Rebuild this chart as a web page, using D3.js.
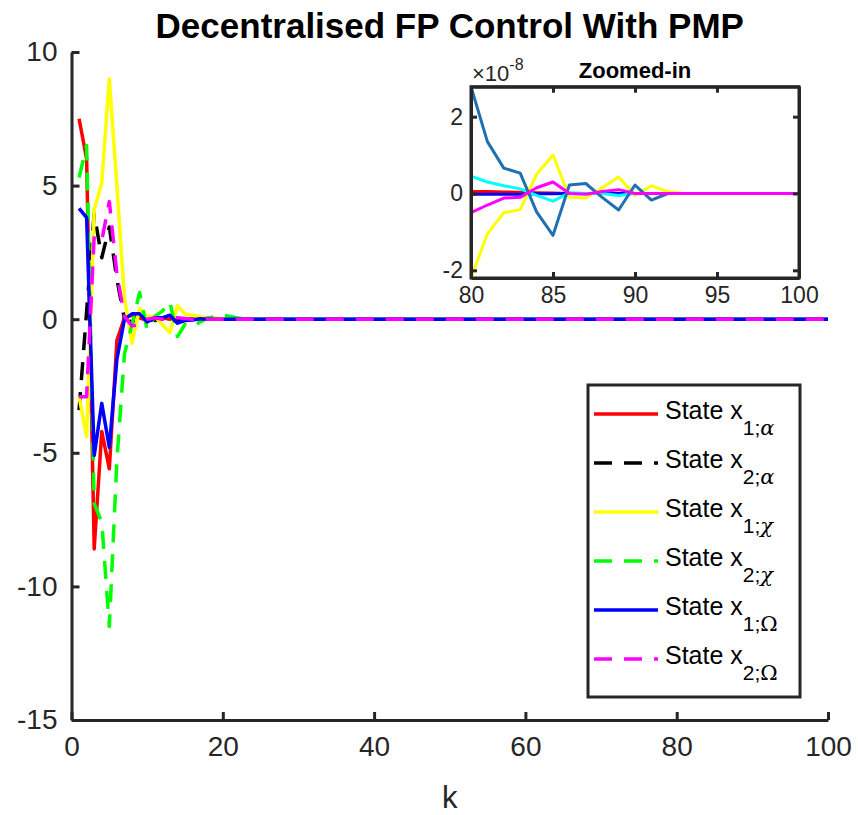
<!DOCTYPE html>
<html>
<head>
<meta charset="utf-8">
<script src="https://cdn.jsdelivr.net/npm/d3@7"></script>
<style>
  body { margin: 0; background: #ffffff; }
  svg text { font-family: "Liberation Sans", Arial, Helvetica, sans-serif; }
</style>
</head>
<body>
<div id="chart"></div>
<script>
"use strict";
let width = 858;
let height = 815;

// main plot: k = 1..25, beyond that every state sits on 0
let kMain = [1, 2, 3, 4, 5, 6, 7, 8, 9, 10, 11, 12, 13, 14, 15, 16, 17, 18, 19, 20, 21, 22, 23, 24, 25, 100];
let x1Alpha = [7.5, 6.0, -8.6, -4.2, -5.6, -0.8, 0.05, 0.15, 0.05, -0.05, 0, 0.05, 0, 0.02, 0, 0, 0, 0, 0, 0, 0, 0, 0, 0, 0, 0];
let x2Alpha = [-3.4, 0.3, 3.95, 2.3, 3.45, 1.5, 0.0, -0.1, 0.05, 0, -0.05, 0, 0.05, 0, 0, 0, 0, 0, 0, 0, 0, 0, 0, 0, 0, 0];
let x1Chi = [-2.9, -4.4, 4.1, 5.1, 9.0, 5.0, 0.8, -0.9, 0.4, 0.1, 0.1, -0.2, -0.5, 0.5, 0.2, 0.15, 0.1, 0.05, 0.05, 0.02, 0, 0, 0, 0, 0, 0];
let x2Chi = [5.3, 6.5, -6.9, -7.6, -11.5, -5.3, -1.3, -0.2, 1.0, -0.4, 0.1, 0.3, 0.65, -0.65, -0.2, -0.3, -0.1, 0.05, 0.1, 0.15, 0.1, 0.05, 0, 0, 0, 0];
let x1Omega = [4.15, 3.8, -5.1, -3.15, -4.8, -1.5, 0.0, 0.2, 0.2, -0.1, 0.05, 0.05, 0.15, -0.15, -0.05, -0.03, 0.02, 0, 0, 0, 0, 0, 0, 0, 0, 0];
let x2Omega = [-2.9, -2.9, 3.1, 2.95, 4.4, 1.7, 0.1, -0.25, -0.2, 0, 0.05, 0, 0.05, 0.05, 0.03, 0, 0, 0, 0, 0, 0, 0, 0, 0, 0, 0];

let seriesNames = ["1;α", "2;α", "1;χ", "2;χ", "1;Ω", "2;Ω"];
let seriesColors = ["#ff0000", "#000000", "#ffff00", "#00ff00", "#0000ff", "#ff00ff"];
let seriesDashed = [false, true, false, true, false, true];
let seriesValues = [x1Alpha, x2Alpha, x1Chi, x2Chi, x1Omega, x2Omega];

let xTicks = [0, 20, 40, 60, 80, 100];
let yTicks = [-15, -10, -5, 0, 5, 10];

// inset (zoomed-in), values in units of 1e-8
let kInset = [80, 81, 82, 83, 84, 85, 86, 87, 88, 89, 90, 91, 92, 93, 94, 95, 96, 97, 98, 99, 100];
let insetRed = [0.05, 0.05, 0.04, 0.03, 0.02, 0.01, 0, 0, 0, 0, 0, 0, 0, 0, 0, 0, 0, 0, 0, 0, 0];
let insetBlue = [-0.02, -0.02, -0.02, -0.02, -0.01, -0.01, 0, 0, 0, 0, 0, 0, 0, 0, 0, 0, 0, 0, 0, 0, 0];
let insetYellow = [-2.2, -1.05, -0.5, -0.42, 0.5, 1.0, -0.1, -0.12, 0.15, 0.43, -0.05, 0.2, 0.05, 0, 0, 0, 0, 0, 0, 0, 0];
let insetCyan = [0.45, 0.3, 0.2, 0.12, -0.05, -0.2, 0.02, 0, 0, -0.05, 0, 0, 0, 0, 0, 0, 0, 0, 0, 0, 0];
let insetSteel = [2.78, 1.35, 0.66, 0.53, -0.48, -1.09, 0.22, 0.26, -0.1, -0.43, 0.22, -0.17, 0, 0, 0, 0, 0, 0, 0, 0, 0];
let insetMagenta = [-0.5, -0.3, -0.12, -0.1, 0.15, 0.3, 0.0, -0.02, 0.05, 0.1, 0, 0, 0, 0, 0, 0, 0, 0, 0, 0, 0];
let insetValues = [insetRed, insetBlue, insetYellow, insetCyan, insetSteel, insetMagenta];
let insetColors = ["#ff0000", "#0000ff", "#ffff00", "#00ffff", "#1f70b0", "#ff00ff"];
let insetXTicks = [80, 85, 90, 95, 100];
let insetYTicks = [-2, 0, 2];

let axisColor = "#262626";
// MATLAB writes plain hyphen-minus and integers
let plainFormat = function(d) { return String(d); };

let svg = d3.select("#chart")
            .append("svg")
            .attr("width", width)
            .attr("height", height);

// Scales for the main plot
let xScale = d3.scaleLinear().domain([0, 100]).range([71.5, 828]);
let yScale = d3.scaleLinear().domain([-15, 10]).range([720, 52]);

svg.append("clipPath").attr("id", "mainClip")
   .append("rect").attr("x", 71.5).attr("y", 52).attr("width", 756.5).attr("height", 668);

let line = d3.line()
            .x(function(d) { return xScale(d[0]); })
            .y(function(d) { return yScale(d[1]); });

let mainLines = svg.append("g").attr("clip-path", "url(#mainClip)");
seriesValues.forEach(function(vals, i) {
    mainLines.append("path")
        .datum(kMain.map(function(k, j) { return [k, vals[j]]; }))
        .attr("d", line)
        .attr("fill", "none")
        .attr("stroke", seriesColors[i])
        .attr("stroke-width", 3.5)
        .attr("stroke-linejoin", "round")
        .attr("stroke-dasharray", seriesDashed[i] ? "18,12" : null);
});

// Axes (MATLAB style: ticks inside, box off)
let xAxis = d3.axisBottom(xScale).tickValues(xTicks).tickFormat(plainFormat).tickSizeInner(-8).tickSizeOuter(0).tickPadding(16);
let yAxis = d3.axisLeft(yScale).tickValues(yTicks).tickFormat(plainFormat).tickSizeInner(-8).tickSizeOuter(0).tickPadding(14);

let gx = svg.append("g")
            .attr("class", "axis")
            .attr("transform", "translate(0,720)")
            .call(xAxis);
let gy = svg.append("g")
            .attr("class", "axis")
            .attr("transform", "translate(71.5,0)")
            .call(yAxis);

[gx, gy].forEach(function(g) {
    g.select(".domain").attr("stroke", axisColor).attr("stroke-width", 3);
    g.selectAll(".tick line").attr("stroke", axisColor).attr("stroke-width", 3);
    g.selectAll(".tick text")
     .attr("fill", axisColor)
     .style("font-size", "28px");
});
gx.selectAll(".tick text").attr("dy", "0.71em");

// Title and x label
svg.append("text")
   .attr("x", 449.75)
   .attr("y", 38)
   .attr("text-anchor", "middle")
   .style("font-size", "35px")
   .style("font-weight", "bold")
   .attr("fill", "#000")
   .text("Decentralised FP Control With PMP");

svg.append("text")
   .attr("x", 449.75)
   .attr("y", 808)
   .attr("text-anchor", "middle")
   .style("font-size", "31px")
   .attr("fill", axisColor)
   .text("k");

// Legend
let legendX = 588, legendY = 385, legendW = 212, legendH = 312;
svg.append("rect")
   .attr("x", legendX).attr("y", legendY)
   .attr("width", legendW).attr("height", legendH)
   .attr("fill", "#fff")
   .attr("stroke", axisColor)
   .attr("stroke-width", 3);

seriesNames.forEach(function(name, i) {
    let rowY = 414 + i * 49;
    svg.append("line")
       .attr("x1", 594).attr("x2", 658)
       .attr("y1", rowY).attr("y2", rowY)
       .attr("stroke", seriesColors[i])
       .attr("stroke-width", 3.5)
       .attr("stroke-dasharray", seriesDashed[i] ? "18,12" : null);

    let t = svg.append("text")
       .attr("x", 665)
       .attr("y", rowY + 5)
       .style("font-size", "25px")
       .attr("fill", "#000");
    t.append("tspan").text("State x");
    let parts = name.split(";");
    t.append("tspan")
     .attr("dy", 16)
     .style("font-size", "21px")
     .text(parts[0] + ";");
    t.append("tspan")
     .style("font-size", "21px")
     .style("font-family", "'DejaVu Serif', 'Liberation Serif', serif")
     .style("font-style", parts[1] === "Ω" ? "normal" : "italic")
     .text(parts[1]);
});

// Inset: zoomed-in view of the tail
let ixScale = d3.scaleLinear().domain([80, 100]).range([471, 799]);
let allInset = d3.merge(insetValues);
let iyScale = d3.scaleLinear().domain(d3.extent(allInset)).range([278, 86.7]);

svg.append("rect")
   .attr("x", 471).attr("y", 86.7)
   .attr("width", 328).attr("height", 191.3)
   .attr("fill", "#fff");

svg.append("clipPath").attr("id", "insetClip")
   .append("rect").attr("x", 471).attr("y", 86.7).attr("width", 328).attr("height", 191.3);

let insetLine = d3.line()
            .x(function(d) { return ixScale(d[0]); })
            .y(function(d) { return iyScale(d[1]); });

let insetLines = svg.append("g").attr("clip-path", "url(#insetClip)");
insetValues.forEach(function(vals, i) {
    insetLines.append("path")
        .datum(kInset.map(function(k, j) { return [k, vals[j]]; }))
        .attr("d", insetLine)
        .attr("fill", "none")
        .attr("stroke", insetColors[i])
        .attr("stroke-width", 3)
        .attr("stroke-linejoin", "round");
});

let ixAxis = d3.axisBottom(ixScale).tickValues(insetXTicks).tickFormat(plainFormat).tickSizeInner(-6).tickSizeOuter(0).tickPadding(9);
let iyAxis = d3.axisLeft(iyScale).tickValues(insetYTicks).tickFormat(plainFormat).tickSizeInner(-6).tickSizeOuter(0).tickPadding(8);
let ixTop = d3.axisTop(ixScale).tickValues(insetXTicks).tickSizeInner(-6).tickSizeOuter(0).tickFormat("");
let iyRight = d3.axisRight(iyScale).tickValues(insetYTicks).tickSizeInner(-6).tickSizeOuter(0).tickFormat("");

let ig = [
    svg.append("g").attr("transform", "translate(0,278)").call(ixAxis),
    svg.append("g").attr("transform", "translate(471,0)").call(iyAxis),
    svg.append("g").attr("transform", "translate(0,86.7)").call(ixTop),
    svg.append("g").attr("transform", "translate(799,0)").call(iyRight)
];
ig.forEach(function(g) {
    g.select(".domain").attr("stroke", axisColor).attr("stroke-width", 3);
    g.selectAll(".tick line").attr("stroke", axisColor).attr("stroke-width", 3);
    g.selectAll(".tick text").attr("fill", axisColor).style("font-size", "23px");
});
ig[0].selectAll(".tick text").attr("dy", "0.71em");

svg.append("rect")
   .attr("x", 471).attr("y", 86.7)
   .attr("width", 328).attr("height", 191.3)
   .attr("fill", "none")
   .attr("stroke", axisColor)
   .attr("stroke-width", 3);

svg.append("text")
   .attr("x", 635)
   .attr("y", 78)
   .attr("text-anchor", "middle")
   .style("font-size", "22px")
   .style("font-weight", "bold")
   .attr("fill", "#000")
   .text("Zoomed-in");

let expo = svg.append("text")
   .attr("x", 472)
   .attr("y", 81)
   .style("font-size", "22px")
   .attr("fill", axisColor);
expo.append("tspan").text("×10");
expo.append("tspan").attr("dy", -11).style("font-size", "16px").text("-8");
</script>
</body>
</html>
